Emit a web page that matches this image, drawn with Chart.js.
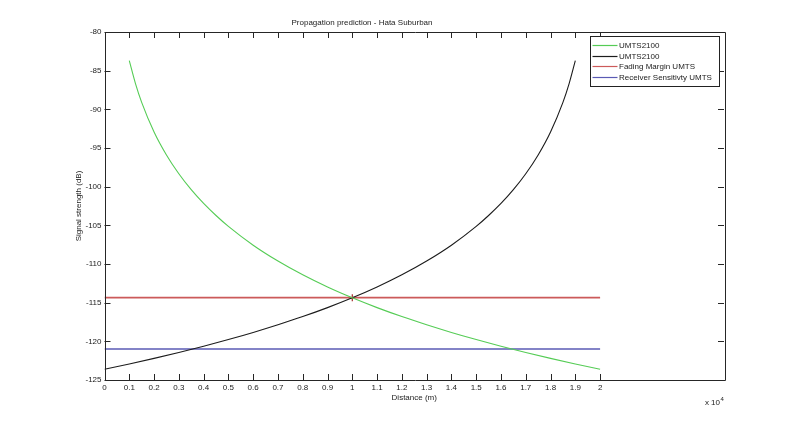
<!DOCTYPE html>
<html><head><meta charset="utf-8">
<script src="https://cdn.jsdelivr.net/npm/chart.js@4.4.0/dist/chart.umd.min.js"></script>
<style>html,body{margin:0;padding:0;background:#fff;} #wrap{width:800px;height:427px;}</style>
</head><body><div id="wrap"><canvas id="c" width="800" height="427"></canvas></div>
<script>
const chartTitle = 'Propagation prediction - Hata Suburban';
const xAxisTitle = 'Distance (m)';
const yAxisTitle = 'Signal strength (dB)';
const xExponentBase = 'x 10';
const xExponent = '4';
const seriesLabels = ['UMTS2100', 'UMTS2100', 'Fading Margin UMTS', 'Receiver Sensitivty UMTS'];
const seriesColors = ['#55cc55', '#1c1c1c', '#cc5a5a', '#5a5ab4'];
const crossColor = '#a52a2a';

const xTickValues = [0,0.1,0.2,0.3,0.4,0.5,0.6,0.7,0.8,0.9,1,1.1,1.2,1.3,1.4,1.5,1.6,1.7,1.8,1.9,2];
const yTickValues = [-125,-120,-115,-110,-105,-100,-95,-90,-85,-80];

// green curve (UMTS2100 from first site)
const greenX = [0.1,0.125,0.15,0.2,0.25,0.3,0.35,0.4,0.45,0.5,0.6,0.7,0.8,0.9,1.0,1.1,1.2,1.3,1.4,1.5,1.6,1.7,1.8,1.9,2.0];
const greenY = [-83.7,-86.67,-89.1,-92.93,-95.9,-98.33,-100.39,-102.17,-103.73,-105.14,-107.57,-109.62,-111.4,-112.97,-114.37,-115.64,-116.8,-117.86,-118.85,-119.77,-120.63,-121.44,-122.2,-122.92,-123.6];
// black curve (UMTS2100 from second site)
const blackX = [0,0.1,0.2,0.3,0.4,0.5,0.6,0.7,0.8,0.9,1.0,1.1,1.2,1.3,1.4,1.5,1.55,1.6,1.65,1.7,1.75,1.8,1.85,1.875,1.9];
const blackY = [-123.6,-122.92,-122.2,-121.44,-120.63,-119.77,-118.85,-117.86,-116.8,-115.64,-114.37,-112.97,-111.4,-109.62,-107.57,-105.14,-103.73,-102.17,-100.39,-98.33,-95.9,-92.93,-89.1,-86.67,-83.7];
// horizontal reference lines
const refX = [0, 2];
const fadingY = [-114.35, -114.35];
const sensitivityY = [-121.0, -121.0];
// intersection marker
const crossX = [1.0];
const crossY = [-114.35];

const zip = (xs, ys) => xs.map((x, i) => ({x, y: ys[i]}));
const FONT = "'Liberation Sans', Arial, sans-serif";
Chart.defaults.font.family = FONT;
Chart.defaults.font.size = 8;
Chart.defaults.color = '#222';

const lineDs = (i, data, w) => ({
  label: seriesLabels[i], data, borderColor: seriesColors[i], backgroundColor: seriesColors[i],
  borderWidth: w, pointRadius: 0, fill: false, cubicInterpolationMode: 'monotone'
});

const framePlugin = {
  id: 'frame',
  afterDraw(chart) {
    const ctx = chart.ctx, a = chart.chartArea, xs = chart.scales.x, ys = chart.scales.y;
    const TL = 6;
    ctx.save();
    ctx.strokeStyle = '#262626';
    ctx.lineWidth = 1;
    ctx.beginPath();
    ctx.rect(Math.round(a.left) + 0.5, Math.round(a.top) + 0.5, Math.round(a.right - a.left), Math.round(a.bottom - a.top));
    ctx.stroke();
    ctx.beginPath();
    xTickValues.forEach(v => {
      const px = Math.round(xs.getPixelForValue(v)) + 0.5;
      ctx.moveTo(px, a.bottom); ctx.lineTo(px, a.bottom - TL);
      ctx.moveTo(px, a.top); ctx.lineTo(px, a.top + TL);
    });
    yTickValues.forEach(v => {
      const py = Math.round(ys.getPixelForValue(v)) + 0.5;
      ctx.moveTo(a.left, py); ctx.lineTo(a.left + TL, py);
      ctx.moveTo(a.right, py); ctx.lineTo(a.right - TL, py);
    });
    ctx.stroke();

    // legend
    const items = [0,1,2,3];
    const lx1 = Math.round(a.right - 5) + 0.5, lx0 = lx1 - 129;
    const ly0 = Math.round(a.top + 4) + 0.5, rowH = 10.5, lh = 50;
    ctx.fillStyle = '#fff';
    ctx.fillRect(lx0, ly0, lx1 - lx0, lh);
    ctx.strokeStyle = '#222';
    ctx.lineWidth = 1;
    ctx.strokeRect(lx0, ly0, lx1 - lx0, lh);
    ctx.font = '8px ' + FONT;
    ctx.textBaseline = 'middle';
    ctx.textAlign = 'left';
    items.forEach((i, k) => {
      const cy = Math.round(ly0 + 8.5 + k * rowH) + 0.5;
      ctx.strokeStyle = seriesColors[i];
      ctx.lineWidth = 1.2;
      ctx.beginPath(); ctx.moveTo(lx0 + 2, cy); ctx.lineTo(lx0 + 27, cy); ctx.stroke();
      ctx.fillStyle = '#222';
      ctx.fillText(seriesLabels[i], lx0 + 28.5, cy);
    });

    // exponent
    ctx.textAlign = 'right';
    ctx.font = '8px ' + FONT;
    ctx.fillStyle = '#222';
    const ex = a.right - 4;
    ctx.fillText(xExponentBase, ex, a.bottom + 23);
    ctx.font = '6px ' + FONT;
    ctx.textAlign = 'left';
    ctx.fillText(xExponent, ex + 0.5, a.bottom + 19);
    ctx.restore();
  }
};

new Chart(document.getElementById('c'), {
  type: 'line',
  data: {
    datasets: [
      lineDs(0, zip(greenX, greenY), 1.1),
      lineDs(1, zip(blackX, blackY), 1.1),
      lineDs(2, zip(refX, fadingY), 1.6),
      lineDs(3, zip(refX, sensitivityY), 1.6),
      { label: 'intersection', data: zip(crossX, crossY), showLine: false, pointStyle: 'cross',
        pointRadius: 3.5, pointBorderWidth: 1.2, borderColor: crossColor, backgroundColor: crossColor, pointHoverRadius: 3.5 }
    ]
  },
  options: {
    responsive: false,
    animation: false,
    devicePixelRatio: 1,
    layout: { padding: { left: 0, right: 76, top: 0, bottom: 0 } },
    plugins: {
      legend: { display: false },
      tooltip: { enabled: false },
      title: { display: true, text: chartTitle, color: '#222', font: { size: 8, weight: 'normal' },
               padding: { top: 18, bottom: 4.4 } }
    },
    scales: {
      x: {
        type: 'linear', min: 0, max: 2.5,
        afterBuildTicks: s => { s.ticks = xTickValues.map(v => ({ value: v })); },
        afterFit: s => { s.height = 47; },
        grid: { display: false, drawTicks: false },
        border: { display: false },
        ticks: { autoSkip: false, maxRotation: 0, padding: 3, color: '#222',
                 callback: v => String(Math.round(v * 10) / 10) },
        title: { display: true, text: xAxisTitle, color: '#222', font: { size: 8 }, padding: { top: 0, bottom: 24 } }
      },
      y: {
        type: 'linear', min: -125, max: -80,
        afterBuildTicks: s => { s.ticks = yTickValues.map(v => ({ value: v })); },
        afterFit: s => { s.width = 104.5; },
        grid: { display: false, drawTicks: false },
        border: { display: false },
        ticks: { padding: 3, color: '#222', callback: v => String(v) },
        title: { display: true, text: yAxisTitle, color: '#222', font: { size: 8 }, padding: { top: 74, bottom: 0 } }
      }
    }
  },
  plugins: [framePlugin]
});
</script>
</body></html>
